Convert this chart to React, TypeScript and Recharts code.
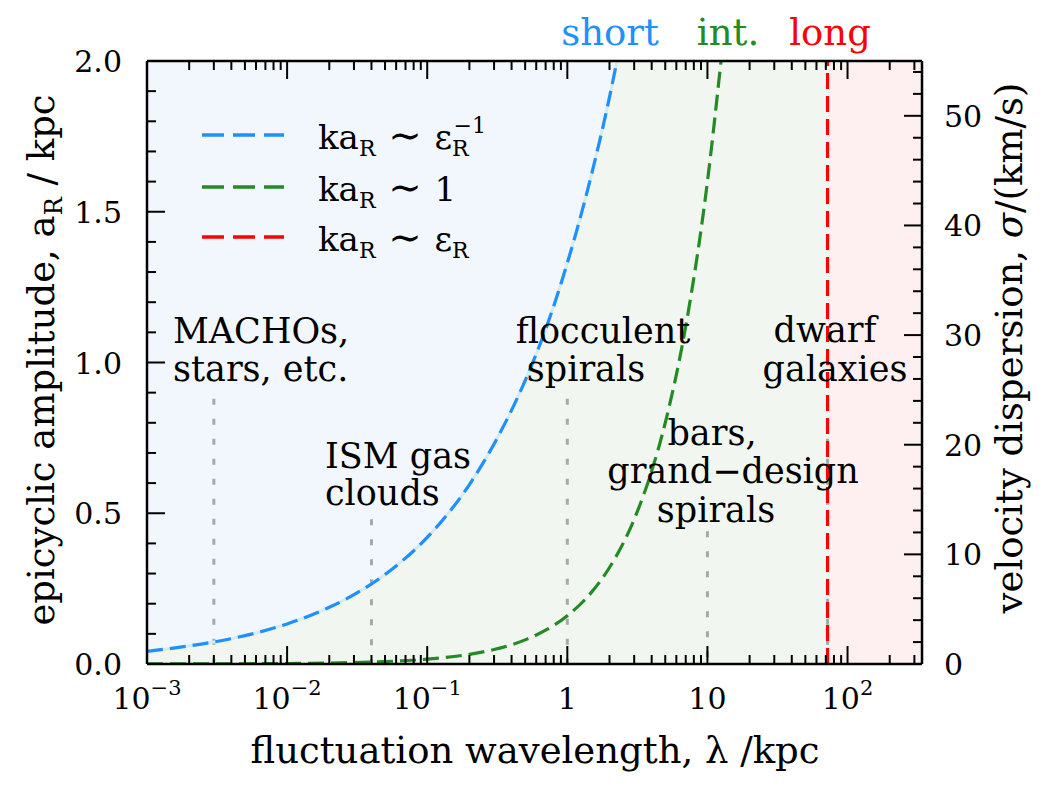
import React from 'react';
import { ComposedChart, Line, Area, XAxis, YAxis, ReferenceLine } from 'recharts';

const FONT = '"DejaVu Serif", serif';

// ---- data ----
const blueLambda = [0.001, 0.002, 0.003, 0.005, 0.01, 0.02, 0.03, 0.05, 0.1, 0.2, 0.3, 0.5, 0.7, 1, 1.5, 2, 2.26];
const blueAmp = [0.042, 0.06, 0.073, 0.094, 0.133, 0.188, 0.23, 0.297, 0.42, 0.595, 0.73, 0.94, 1.11, 1.33, 1.63, 1.88, 2.0];
const greenLambda = [0.001, 0.002, 0.005, 0.01, 0.02, 0.05, 0.1, 0.2, 0.3, 0.5, 0.7, 1, 1.5, 2, 3, 4, 5, 7, 10, 12.5];
const greenAmp = [0.0002, 0.0003, 0.0008, 0.0016, 0.0032, 0.008, 0.016, 0.032, 0.048, 0.08, 0.112, 0.16, 0.24, 0.32, 0.48, 0.64, 0.8, 1.12, 1.6, 2.0];
const longLambda = 72;
const markerLambda = [0.003, 0.04, 1, 10, 72];
const markerTop = [0.88, 0.48, 0.88, 0.44, 0.88];

const xDomain = [0.001, 340];
const yDomain = [0, 2];
const sigmaDomain = [0, 55];

const majorX = [0.001, 0.01, 0.1, 1, 10, 100];
const xTickBase = ['10', '10', '10', '1', '10', '10'];
const xTickExp = ['\u22123', '\u22122', '\u22121', '', '', '2'];
const minorX: number[] = [];
majorX.forEach((m) => {
  for (let k = 2; k <= 9; k++) {
    const v = +(m * k).toPrecision(3);
    if (v <= xDomain[1]) minorX.push(v);
  }
});
const xTicks = [...majorX, ...minorX].sort((a, b) => a - b);

const yTicks = [0, 0.1, 0.2, 0.3, 0.4, 0.5, 0.6, 0.7, 0.8, 0.9, 1.0, 1.1, 1.2, 1.3, 1.4, 1.5, 1.6, 1.7, 1.8, 1.9, 2.0];
const yMajor = [0, 0.5, 1.0, 1.5, 2.0];
const sigmaTicks = [0, 2, 4, 6, 8, 10, 12, 14, 16, 18, 20, 22, 24, 26, 28, 30, 32, 34, 36, 38, 40, 42, 44, 46, 48, 50, 52, 54];
const sigmaMajor = [0, 10, 20, 30, 40, 50];

const blueData = blueLambda.map((x, i) => ({ x, a: blueAmp[i] }));
const greenData = greenLambda.map((x, i) => ({ x, a: greenAmp[i] }));
const redData = [{ x: longLambda, a: yDomain[0] }, { x: longLambda, a: yDomain[1] }];
const intBg = [{ x: xDomain[0], a: yDomain[1] }, { x: longLambda, a: yDomain[1] }];
const longBg = [{ x: longLambda, a: yDomain[1] }, { x: xDomain[1], a: yDomain[1] }];

const MAJ = 18;
const MIN = 9;
const TW = 2;
const TICK_FS = 30;
const TXT_FS = 35;
const TITLE_FS = 37;

const isMajorX = (v: number) => majorX.findIndex((m) => Math.abs(Math.log10(m) - Math.log10(v)) < 1e-6);

const BottomTick = (props: any) => {
  const { x, y, payload } = props;
  const idx = isMajorX(payload.value);
  const major = idx >= 0;
  return (
    <g>
      <line x1={x} x2={x} y1={y} y2={y - (major ? MAJ : MIN)} stroke="#000" strokeWidth={TW} />
      {major && (
        <text x={x} y={y + 45} textAnchor="middle" fontFamily={FONT} fontSize={TICK_FS} fill="#000">
          <tspan>{xTickBase[idx]}</tspan>
          {xTickExp[idx] !== '' && (
            <tspan dy={-14} fontSize={21}>
              {xTickExp[idx]}
            </tspan>
          )}
        </text>
      )}
    </g>
  );
};

const TopTick = (props: any) => {
  const { x, y, payload } = props;
  const major = isMajorX(payload.value) >= 0;
  return <line x1={x} x2={x} y1={y} y2={y + (major ? MAJ : MIN)} stroke="#000" strokeWidth={TW} />;
};

const LeftTick = (props: any) => {
  const { x, y, payload } = props;
  const v = payload.value as number;
  const major = yMajor.some((m) => Math.abs(m - v) < 1e-6);
  return (
    <g>
      <line x1={x} x2={x + (major ? MAJ : MIN)} y1={y} y2={y} stroke="#000" strokeWidth={TW} />
      {major && (
        <text x={x - 25} y={y + 11} textAnchor="end" fontFamily={FONT} fontSize={TICK_FS} fill="#000">
          {v.toFixed(1)}
        </text>
      )}
    </g>
  );
};

const RightTick = (props: any) => {
  const { x, y, payload } = props;
  const v = payload.value as number;
  const major = sigmaMajor.includes(v);
  return (
    <g>
      <line x1={x} x2={x - (major ? MAJ : MIN)} y1={y} y2={y} stroke="#000" strokeWidth={TW} />
      {major && (
        <text x={x + 22} y={y + 11} textAnchor="start" fontFamily={FONT} fontSize={TICK_FS} fill="#000">
          {String(v)}
        </text>
      )}
    </g>
  );
};

const W = 1042;
const H = 776;

const legendRows = [
  { color: '#1e90ff', y: 127 },
  { color: '#228b22', y: 179 },
  { color: '#ff0000', y: 229 },
];

export default function App() {
  const axisLine = { stroke: '#000', strokeWidth: 2.5 };
  return (
    <div style={{ position: 'relative', width: W, height: H, background: '#fff' }}>
      <ComposedChart width={W} height={H} margin={{ top: 52, right: 0, bottom: 0, left: 0 }}>
        <XAxis
          dataKey="x"
          type="number"
          scale="log"
          domain={xDomain}
          allowDataOverflow
          ticks={xTicks}
          interval={0}
          tick={BottomTick}
          tickLine={false}
          tickSize={0}
          tickMargin={0}
          axisLine={axisLine}
          height={120}
        />
        <XAxis
          xAxisId="top"
          orientation="top"
          dataKey="x"
          type="number"
          scale="log"
          domain={xDomain}
          allowDataOverflow
          ticks={xTicks}
          interval={0}
          tick={TopTick}
          tickLine={false}
          tickSize={0}
          tickMargin={0}
          axisLine={axisLine}
          height={1}
        />
        <YAxis
          type="number"
          domain={yDomain}
          allowDataOverflow
          ticks={yTicks}
          interval={0}
          tick={LeftTick}
          tickLine={false}
          tickSize={0}
          tickMargin={0}
          axisLine={axisLine}
          width={139}
        />
        <YAxis
          yAxisId="right"
          orientation="right"
          type="number"
          domain={sigmaDomain}
          allowDataOverflow
          ticks={sigmaTicks}
          interval={0}
          tick={RightTick}
          tickLine={false}
          tickSize={0}
          tickMargin={0}
          axisLine={axisLine}
          width={128}
        />
        <Area data={intBg} dataKey="a" type="linear" fill="#f1f7f0" fillOpacity={1} stroke="none" isAnimationActive={false} />
        <Area data={longBg} dataKey="a" type="linear" fill="#fef0f0" fillOpacity={1} stroke="none" isAnimationActive={false} />
        <Area
          data={blueData}
          dataKey={(d: any) => [d.a, yDomain[1]]}
          type="monotone"
          fill="#f2f7fe"
          fillOpacity={1}
          stroke="none"
          isAnimationActive={false}
        />
        {markerLambda.map((lx, i) => (
          <ReferenceLine
            key={i}
            segment={[{ x: lx, y: markerTop[i] }, { x: lx, y: 0 }]}
            stroke="#a8a8a8"
            strokeWidth={3}
            strokeDasharray="6 14"
          />
        ))}
        <Line data={blueData} dataKey="a" type="monotone" stroke="#d6ebef" strokeWidth={3} dot={false} isAnimationActive={false} />
        <Line data={blueData} dataKey="a" type="monotone" stroke="#1e90ff" strokeWidth={3.2} strokeDasharray="16 7" dot={false} isAnimationActive={false} />
        <Line data={greenData} dataKey="a" type="monotone" stroke="#228b22" strokeWidth={3.2} strokeDasharray="16 7" dot={false} isAnimationActive={false} />
        <Line data={redData} dataKey="a" type="linear" stroke="#ff0000" strokeWidth={3.2} strokeDasharray="16 7" dot={false} isAnimationActive={false} />
      </ComposedChart>
      <svg width={W} height={H} style={{ position: 'absolute', left: 0, top: 0, pointerEvents: 'none' }} fontFamily={FONT}>
        {/* region labels */}
        <text x={602} y={37} textAnchor="middle" fontSize={TITLE_FS} fill="#1e90ff">short</text>
        <text x={720} y={37} textAnchor="middle" fontSize={TITLE_FS} fill="#228b22">int.</text>
        <text x={822} y={37} textAnchor="middle" fontSize={TITLE_FS} fill="#ff0000">long</text>

        {/* legend */}
        {legendRows.map((r, i) => (
          <line key={i} x1={194} x2={276} y1={r.y} y2={r.y} stroke={r.color} strokeWidth={3.6} strokeDasharray="22 9" />
        ))}
        <text x={310} y={141} fontSize={34} fill="#000">
          ka<tspan dy={7} fontSize={22}>R</tspan>
          <tspan dy={-7} fontSize={40}> {'\u223C'} </tspan>
          <tspan>{'\u03B5'}</tspan>
          <tspan dy={7} fontSize={22}>R</tspan>
          <tspan dx={-15} dy={-23} fontSize={22}>{'\u22121'}</tspan>
        </text>
        <text x={310} y={193} fontSize={34} fill="#000">
          ka<tspan dy={7} fontSize={22}>R</tspan>
          <tspan dy={-7} fontSize={40}> {'\u223C'} </tspan>
          <tspan>1</tspan>
        </text>
        <text x={310} y={243} fontSize={34} fill="#000">
          ka<tspan dy={7} fontSize={22}>R</tspan>
          <tspan dy={-7} fontSize={40}> {'\u223C'} </tspan>
          <tspan>{'\u03B5'}</tspan>
          <tspan dy={7} fontSize={22}>R</tspan>
        </text>

        {/* annotations */}
        <g fontSize={TXT_FS} fill="#000">
          <text x={165} y={335}>MACHOs,</text>
          <text x={165} y={373}>stars, etc.</text>
          <text x={317} y={460}>ISM gas</text>
          <text x={317} y={497}>clouds</text>
          <text x={595} y={335} textAnchor="middle">flocculent</text>
          <text x={578} y={373} textAnchor="middle">spirals</text>
          <text x={817} y={334} textAnchor="middle">dwarf</text>
          <text x={827} y={373} textAnchor="middle">galaxies</text>
          <text x={704} y={437} textAnchor="middle">bars,</text>
          <text x={725} y={475} textAnchor="middle">grand{'\u2212'}design</text>
          <text x={708} y={514} textAnchor="middle">spirals</text>
        </g>

        {/* axis titles */}
        <text x={527} y={755} textAnchor="middle" fontSize={TITLE_FS} fill="#000">
          fluctuation wavelength, {'\u03BB'} /kpc
        </text>
        <text transform="translate(46,352) rotate(-90)" textAnchor="middle" fontSize={TITLE_FS} fill="#000">
          epicyclic amplitude, a<tspan dy={8} fontSize={24}>R</tspan>
          <tspan dy={-8}> / kpc</tspan>
        </text>
        <text transform="translate(1014,340) rotate(-90)" textAnchor="middle" fontSize={TITLE_FS} fill="#000">
          velocity dispersion, <tspan fontStyle="italic">{'\u03C3'}</tspan>/(km/s)
        </text>
      </svg>
    </div>
  );
}
